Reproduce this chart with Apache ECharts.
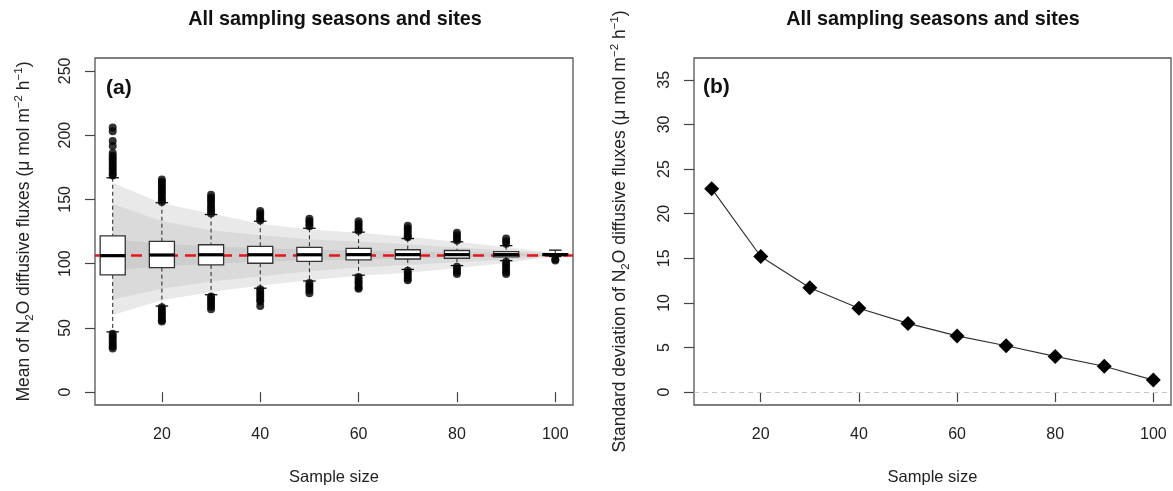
<!DOCTYPE html>
<html>
<head>
<meta charset="utf-8">
<title>Sample size</title>
<script src="https://cdn.jsdelivr.net/npm/echarts@6/dist/echarts.min.js"></script>
<style>
  html, body { margin: 0; padding: 0; background: #fff; }
  #chart { width: 1173px; height: 491px; }
</style>
</head>
<body>
<div id="chart"></div>
<script>
const SAMPLE_SIZES = [10, 20, 30, 40, 50, 60, 70, 80, 90, 100];

// boxplot of simulated means: [low whisker, Q1, median, Q3, high whisker]
const BOX_STATS = [
  [46.9, 91.2, 106.2, 121.6, 166.8],
  [67.0, 96.9, 106.7, 117.3, 147.4],
  [75.8, 99.0, 106.9, 114.7, 138.2],
  [80.9, 100.3, 106.9, 113.4, 133.0],
  [86.5, 101.8, 106.9, 112.6, 127.5],
  [91.0, 102.9, 107.0, 111.9, 124.5],
  [95.5, 103.6, 107.0, 110.8, 119.5],
  [98.5, 104.2, 107.0, 110.2, 117.0],
  [102.3, 105.2, 107.0, 109.3, 114.0],
  [105.5, 106.5, 107.0, 107.8, 110.5]
];

const OUTLIERS_HIGH = [
  [206, 203, 195.5, 191.5, 186, 184, 182, 180, 178, 176, 174, 172, 170, 168.5],
  [165.5, 163.5, 161.5, 159.5, 157.5, 155.5, 153.5, 151.5, 149.5, 148],
  [153.5, 151.5, 149.5, 147.5, 145, 143, 141, 139],
  [141, 139, 137, 135, 133.5],
  [135, 133, 131, 129],
  [133, 131, 129, 127, 125.5],
  [129.5, 127.5, 125.5, 123.5, 121.5, 120.5],
  [124, 122, 120, 118],
  [119.5, 117.5, 115.5],
  []
];

const OUTLIERS_LOW = [
  [45.5, 43.5, 41.5, 39.5, 37.5, 35.5, 34],
  [66, 64, 62, 60, 58, 56, 55],
  [74.5, 72.5, 70.5, 68.5, 66.5, 64.5],
  [80, 78, 76, 74, 72, 70.5, 67],
  [85, 83, 81, 79, 77],
  [89.5, 87.5, 85.5, 83.5, 81.5, 80.5],
  [94.5, 92.5, 90.5, 88.5, 87],
  [97.5, 95.5, 93.5, 92],
  [101.5, 99.5, 97.5, 95.5, 93.5, 92],
  [103.5, 102.5]
];

const MEAN_FLUX = 106.9;

// shaded envelopes around the mean (upper / lower edge per sample size)
const BAND_OUTER_HI = [163, 147, 139, 131, 126.5, 124, 121, 117, 113, 108];
const BAND_OUTER_LO = [60, 71.5, 78, 83, 87, 90.5, 93, 96.5, 100.5, 105.8];
const BAND_MID_HI   = [146.5, 133, 126, 122, 119, 117, 115, 112.5, 110.5, 107.8];
const BAND_MID_LO   = [72, 80.5, 86, 90, 94, 97, 99, 101, 103, 106];
const BAND_INNER_HI = [119, 115.5, 113.5, 112, 111, 110, 109.5, 108.8, 108.2, 107.3];
const BAND_INNER_LO = [95, 98, 100, 101.5, 102.5, 103.2, 104, 104.8, 105.5, 106.4];

// standard deviation of the means, panel (b)
const SD_VALUES = [22.8, 15.2, 11.7, 9.4, 7.7, 6.3, 5.2, 4.0, 2.9, 1.35];

const X_TICKS = [20, 40, 60, 80, 100];
const Y_TICKS_A = [0, 50, 100, 150, 200, 250];
const Y_TICKS_B = [0, 5, 10, 15, 20, 25, 30, 35];

const TITLE = "All sampling seasons and sites";
const FONT = "'Liberation Sans', Arial, sans-serif";
const BOX_HALF = 2.55; // in sample-size units

const bands = [
  { hi: BAND_OUTER_HI, lo: BAND_OUTER_LO, color: "#e9e9e9" },
  { hi: BAND_MID_HI, lo: BAND_MID_LO, color: "#dadada" },
  { hi: BAND_INNER_HI, lo: BAND_INNER_LO, color: "#cdcdcd" }
];

const outlierData = [];
SAMPLE_SIZES.forEach((n, i) => {
  OUTLIERS_HIGH[i].forEach(v => outlierData.push([n, v]));
  OUTLIERS_LOW[i].forEach(v => outlierData.push([n, v]));
});

function xAxisCfg(grid){
  return {
    type: "value", gridIndex: grid, min: 6.4, max: 103.6,
    axisLine: { show: false },
    axisTick: { show: true, inside: false, length: 10, customValues: X_TICKS, lineStyle: { color: "#444", width: 1.2 } },
    axisLabel: { customValues: X_TICKS, margin: 22, fontSize: 16, color: "#222", fontFamily: FONT },
    splitLine: { show: false },
    name: "Sample size", nameLocation: "middle", nameGap: 64,
    nameTextStyle: { fontSize: 16.5, color: "#222", fontFamily: FONT }
  };
}

function yName(prefix){
  return `{t|${prefix} N}{sb|2}{t|O diffusive fluxes (\u03bc mol m}{sp|\u22122}{t| h}{sp|\u22121}{t|)}`;
}
const nameRich = {
  t: { fontSize: 17.5, lineHeight: 23, verticalAlign: "middle", fontFamily: FONT, color: "#222" },
  sp: { fontSize: 11.5, lineHeight: 11, verticalAlign: "top", fontFamily: FONT, color: "#222" },
  sb: { fontSize: 11.5, lineHeight: 11, verticalAlign: "bottom", fontFamily: FONT, color: "#222" }
};

function yAxisCfg(grid, min, max, ticks, name, gap){
  return {
    type: "value", gridIndex: grid, min: min, max: max,
    axisLine: { show: false },
    axisTick: { show: true, inside: false, length: 10, customValues: ticks, lineStyle: { color: "#444", width: 1.2 } },
    axisLabel: { customValues: ticks, rotate: 90, margin: 21, fontSize: 16, color: "#222", fontFamily: FONT },
    splitLine: { show: false },
    name: name, nameLocation: "middle", nameRotate: 90, nameGap: gap,
    nameTextStyle: { rich: nameRich }
  };
}

function renderBand(params, api){
  const b = bands[params.dataIndex];
  const pts = [];
  SAMPLE_SIZES.forEach((n, i) => pts.push(api.coord([n, b.hi[i]])));
  for(let i = SAMPLE_SIZES.length - 1; i >= 0; i--) pts.push(api.coord([SAMPLE_SIZES[i], b.lo[i]]));
  return { type: "polygon", shape: { points: pts }, style: { fill: b.color } };
}

function renderBox(params, api){
  const n = api.value(0);
  const lo = api.coord([n, api.value(1)]);
  const q1 = api.coord([n, api.value(2)]);
  const md = api.coord([n, api.value(3)]);
  const q3 = api.coord([n, api.value(4)]);
  const hi = api.coord([n, api.value(5)]);
  const x = md[0];
  const half = api.size([BOX_HALF, 0])[0];
  const cap = half / 2;
  const dash = { stroke: "#222", lineWidth: 1, lineDash: [4, 3] };
  const solid = { stroke: "#111", lineWidth: 1.3 };
  return {
    type: "group",
    children: [
      { type: "line", shape: { x1: x, y1: hi[1], x2: x, y2: q3[1] }, style: dash },
      { type: "line", shape: { x1: x, y1: q1[1], x2: x, y2: lo[1] }, style: dash },
      { type: "line", shape: { x1: x - cap, y1: hi[1], x2: x + cap, y2: hi[1] }, style: solid },
      { type: "line", shape: { x1: x - cap, y1: lo[1], x2: x + cap, y2: lo[1] }, style: solid },
      { type: "rect", shape: { x: x - half, y: q3[1], width: 2 * half, height: q1[1] - q3[1] },
        style: { fill: "#fff", stroke: "#333", lineWidth: 1.3 } },
      { type: "line", shape: { x1: x - half, y1: md[1], x2: x + half, y2: md[1] },
        style: { stroke: "#000", lineWidth: 3.2 } }
    ]
  };
}

const chart = echarts.init(document.getElementById("chart"), null, { renderer: "canvas" });

chart.setOption({
  backgroundColor: "#fff",
  animation: false,
  textStyle: { fontFamily: FONT },
  grid: [
    { left: 95, top: 58, width: 478, height: 349, show: true, borderColor: "#555", borderWidth: 1.3, backgroundColor: "transparent" },
    { left: 694, top: 58, width: 477, height: 349, show: true, borderColor: "#555", borderWidth: 1.3, backgroundColor: "transparent" }
  ],
  xAxis: [xAxisCfg(0), xAxisCfg(1)],
  yAxis: [
    yAxisCfg(0, -10, 260, Y_TICKS_A, yName("Mean of"), 59),
    yAxisCfg(1, -1.44, 37.44, Y_TICKS_B, yName("Standard deviation of"), 62)
  ],
  graphic: [
    { type: "text", x: 335, y: 20, style: { text: TITLE, textAlign: "center", textVerticalAlign: "middle", font: `bold 19.8px ${FONT}`, fill: "#111" } },
    { type: "text", x: 933, y: 20, style: { text: TITLE, textAlign: "center", textVerticalAlign: "middle", font: `bold 19.8px ${FONT}`, fill: "#111" } },
    { type: "text", x: 106, y: 78, style: { text: "(a)", font: `bold 21px ${FONT}`, fill: "#111" } },
    { type: "text", x: 703, y: 77, style: { text: "(b)", font: `bold 21px ${FONT}`, fill: "#111" } }
  ],
  series: [
    {
      type: "custom", xAxisIndex: 0, yAxisIndex: 0, z: 1,
      renderItem: renderBand,
      data: bands.map(b => [SAMPLE_SIZES[0], b.hi[0]]),
      markLine: {
        silent: true, symbol: "none", z: 2,
        label: { show: false },
        lineStyle: { color: "#e8141c", width: 2.6, type: [11, 7] },
        data: [{ yAxis: MEAN_FLUX }]
      }
    },
    {
      type: "custom", xAxisIndex: 0, yAxisIndex: 0, z: 3,
      renderItem: renderBox,
      data: SAMPLE_SIZES.map((n, i) => [n].concat(BOX_STATS[i]))
    },
    {
      type: "scatter", xAxisIndex: 0, yAxisIndex: 0, z: 4,
      symbol: "circle", symbolSize: 8,
      itemStyle: { color: "#000" },
      data: outlierData
    },
    {
      type: "line", xAxisIndex: 1, yAxisIndex: 1, z: 3,
      symbol: "diamond", symbolSize: 15,
      itemStyle: { color: "#000" },
      lineStyle: { color: "#333", width: 1.2 },
      data: SAMPLE_SIZES.map((n, i) => [n, SD_VALUES[i]]),
      markLine: {
        silent: true, symbol: "none",
        label: { show: false },
        lineStyle: { color: "#c8c8c8", width: 1.2, type: [5, 4] },
        data: [{ yAxis: 0 }]
      }
    }
  ]
});
</script>
</body>
</html>
